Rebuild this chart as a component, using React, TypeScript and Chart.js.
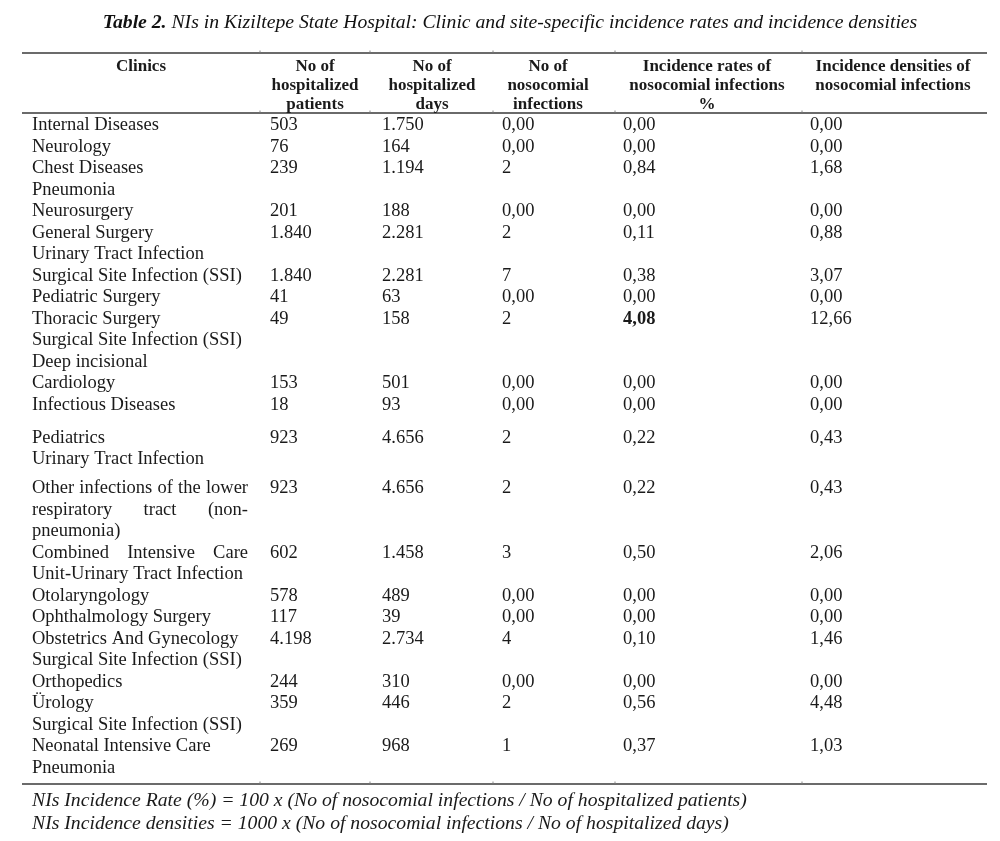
import React, { useEffect, useRef } from "react";
import { Chart, registerables } from "chart.js";

Chart.register(...registerables);

// ---------------- data ----------------
const titleBold = "Table 2.";
const titleRest = " NIs in Kiziltepe State Hospital: Clinic and site-specific incidence rates and incidence densities";

const headers: string[][] = [
  ["Clinics"],
  ["No of", "hospitalized", "patients"],
  ["No of", "hospitalized", "days"],
  ["No of", "nosocomial", "infections"],
  ["Incidence rates of", "nosocomial infections", "%"],
  ["Incidence densities of", "nosocomial infections"],
];

const clinics: string[][] = [
  ["Internal Diseases"],
  ["Neurology"],
  ["Chest Diseases", "Pneumonia"],
  ["Neurosurgery"],
  ["General Surgery", "Urinary Tract Infection"],
  ["Surgical Site Infection (SSI)"],
  ["Pediatric Surgery"],
  ["Thoracic Surgery", "Surgical Site Infection (SSI)", "Deep incisional"],
  ["Cardiology"],
  ["Infectious Diseases"],
  ["Pediatrics", "Urinary Tract Infection"],
  ["Other infections of the lower", "respiratory tract (non-", "pneumonia)"],
  ["Combined Intensive Care", "Unit-Urinary Tract Infection"],
  ["Otolaryngology"],
  ["Ophthalmology Surgery"],
  ["Obstetrics And Gynecology", "Surgical Site Infection (SSI)"],
  ["Orthopedics"],
  ["Ürology", "Surgical Site Infection (SSI)"],
  ["Neonatal Intensive Care", "Pneumonia"],
];

const patients = ["503", "76", "239", "201", "1.840", "1.840", "41", "49", "153", "18", "923", "923", "602", "578", "117", "4.198", "244", "359", "269"];
const days = ["1.750", "164", "1.194", "188", "2.281", "2.281", "63", "158", "501", "93", "4.656", "4.656", "1.458", "489", "39", "2.734", "310", "446", "968"];
const infections = ["0,00", "0,00", "2", "0,00", "2", "7", "0,00", "2", "0,00", "0,00", "2", "2", "3", "0,00", "0,00", "4", "0,00", "2", "1"];
const rates = ["0,00", "0,00", "0,84", "0,00", "0,11", "0,38", "0,00", "4,08", "0,00", "0,00", "0,22", "0,22", "0,50", "0,00", "0,00", "0,10", "0,00", "0,56", "0,37"];
const densities = ["0,00", "0,00", "1,68", "0,00", "0,88", "3,07", "0,00", "12,66", "0,00", "0,00", "0,43", "0,43", "2,06", "0,00", "0,00", "1,46", "0,00", "4,48", "1,03"];

const footnotes = [
  "NIs Incidence Rate (%) = 100 x (No of nosocomial infections / No of hospitalized patients)",
  "NIs Incidence densities = 1000 x (No of nosocomial infections / No of hospitalized days)",
];

// ---------------- layout ----------------
const W = 1000;
const H = 841;
const FONT = '"Liberation Serif", "Times New Roman", serif';
const bodyFont = `18.5px ${FONT}`;
const boldBodyFont = `bold 18.5px ${FONT}`;
const headerFont = `bold 17px ${FONT}`;
const titleSize = 19.7;
const footFont = `italic 19.7px ${FONT}`;
const textDy = 1.5;

const colLeft = [32, 270, 382, 502, 623, 810];
const headCenter = [141, 315, 432, 548, 707, 893];
const headLineY = [65, 84, 103];
const firstY = 124;
const lineH = 21.5;
const extraGapBefore: Record<number, number> = { 10: 11.5, 11: 7.5 };
const justified = new Set(["11:0", "11:1", "12:0"]);
const boldCells = new Set(["rates:7"]);
const clinicRight = 248;
const ruleY = [53, 113, 784];
const ruleX0 = 22;
const ruleX1 = 987;
const colTicks = [260, 370, 493, 615, 802];
const titleCenter = 510;
const titleY = 21;
const footY = [799, 822];

type Cell = { x: number; y: number; text: string; font: string; align: "left" | "center"; justifyTo?: number };

function rowStartY(): number[] {
  const ys: number[] = [];
  let y = firstY;
  clinics.forEach((lines, r) => {
    y += extraGapBefore[r] || 0;
    ys.push(y);
    y += lines.length * lineH;
  });
  return ys;
}

function buildDatasets() {
  const starts = rowStartY();
  const clinicCells: Cell[] = [];
  clinics.forEach((lines, r) =>
    lines.forEach((t, li) =>
      clinicCells.push({
        x: colLeft[0],
        y: starts[r] + li * lineH,
        text: t,
        font: bodyFont,
        align: "left",
        justifyTo: justified.has(`${r}:${li}`) ? clinicRight : undefined,
      })
    )
  );
  const cols: [string, string[]][] = [
    ["patients", patients],
    ["days", days],
    ["infections", infections],
    ["rates", rates],
    ["densities", densities],
  ];
  const valueSets = cols.map(([name, arr], ci) => ({
    label: name,
    data: arr.map((t, r) => ({
      x: colLeft[ci + 1],
      y: starts[r],
      text: t,
      font: boldCells.has(`${name}:${r}`) ? boldBodyFont : bodyFont,
      align: "left" as const,
    })),
  }));
  const headerCells: Cell[] = [];
  headers.forEach((lines, ci) =>
    lines.forEach((t, li) =>
      headerCells.push({ x: headCenter[ci], y: headLineY[li], text: t, font: headerFont, align: "center" })
    )
  );
  const footCells: Cell[] = footnotes.map((t, i) => ({ x: colLeft[0], y: footY[i], text: t, font: footFont, align: "left" }));
  return [
    { label: "header", data: headerCells },
    { label: "clinics", data: clinicCells },
    ...valueSets,
    { label: "footnotes", data: footCells },
  ].map((d) => ({ ...d, pointRadius: 0, pointHoverRadius: 0, showLine: false }));
}

const tablePlugin = {
  id: "tableText",
  beforeDraw(chart: any) {
    const ctx = chart.ctx;
    ctx.save();
    ctx.fillStyle = "#ffffff";
    ctx.fillRect(0, 0, chart.width, chart.height);
    ctx.restore();
  },
  afterDatasetsDraw(chart: any) {
    const ctx: CanvasRenderingContext2D = chart.ctx;
    const xs = chart.scales.x;
    const ys = chart.scales.y;
    ctx.save();
    // rules
    ruleY.forEach((yv, i) => {
      const py = ys.getPixelForValue(yv);
      ctx.strokeStyle = i === 1 ? "#6a6a6a" : "#3a3a3a";
      ctx.lineWidth = i === 1 ? 2 : 1.3;
      ctx.beginPath();
      ctx.moveTo(xs.getPixelForValue(ruleX0), py);
      ctx.lineTo(xs.getPixelForValue(ruleX1), py);
      ctx.stroke();
      ctx.fillStyle = "#888";
      colTicks.forEach((cx) => {
        ctx.fillRect(xs.getPixelForValue(cx) - 0.5, py - 2.5, 1, 2);
      });
    });
    // title
    ctx.fillStyle = "#111";
    ctx.textBaseline = "middle";
    const fB = `italic bold ${titleSize}px ${FONT}`;
    const fI = `italic ${titleSize}px ${FONT}`;
    ctx.font = fB;
    const wB = ctx.measureText(titleBold).width;
    ctx.font = fI;
    const wI = ctx.measureText(titleRest).width;
    const tx = xs.getPixelForValue(titleCenter) - (wB + wI) / 2;
    const ty = ys.getPixelForValue(titleY) + textDy;
    ctx.textAlign = "left";
    ctx.font = fB;
    ctx.fillText(titleBold, tx, ty);
    ctx.font = fI;
    ctx.fillText(titleRest, tx + wB, ty);
    // cells
    chart.data.datasets.forEach((ds: any, di: number) => {
      const meta = chart.getDatasetMeta(di);
      meta.data.forEach((el: any, i: number) => {
        const c: Cell = ds.data[i];
        const py = el.y + textDy;
        ctx.font = c.font;
        ctx.fillStyle = "#1a1a1a";
        ctx.textBaseline = "middle";
        if (c.justifyTo !== undefined) {
          const words = c.text.split(" ");
          const widths = words.map((w) => ctx.measureText(w).width);
          const total = widths.reduce((a, b) => a + b, 0);
          const right = xs.getPixelForValue(c.justifyTo);
          const gap = words.length > 1 ? (right - el.x - total) / (words.length - 1) : 0;
          let x = el.x;
          ctx.textAlign = "left";
          words.forEach((w, k) => {
            ctx.fillText(w, x, py);
            x += widths[k] + gap;
          });
        } else {
          ctx.textAlign = c.align;
          ctx.fillText(c.text, el.x, py);
        }
      });
    });
    ctx.restore();
  },
};

export default function App() {
  const ref = useRef<HTMLCanvasElement | null>(null);
  useEffect(() => {
    document.body.style.margin = "0";
    document.body.style.overflow = "hidden";
    if (!ref.current) return;
    const chart = new Chart(ref.current, {
      type: "scatter",
      data: { datasets: buildDatasets() as any },
      options: {
        responsive: false,
        maintainAspectRatio: false,
        animation: false,
        events: [],
        layout: { padding: 0 },
        plugins: { legend: { display: false }, tooltip: { enabled: false }, title: { display: false } },
        scales: {
          x: { type: "linear", min: 0, max: W, display: false },
          y: { type: "linear", min: 0, max: H, reverse: true, display: false },
        },
      },
      plugins: [tablePlugin],
    });
    return () => chart.destroy();
  }, []);
  return <canvas ref={ref} width={W} height={H} style={{ display: "block", width: W, height: H }} />;
}
